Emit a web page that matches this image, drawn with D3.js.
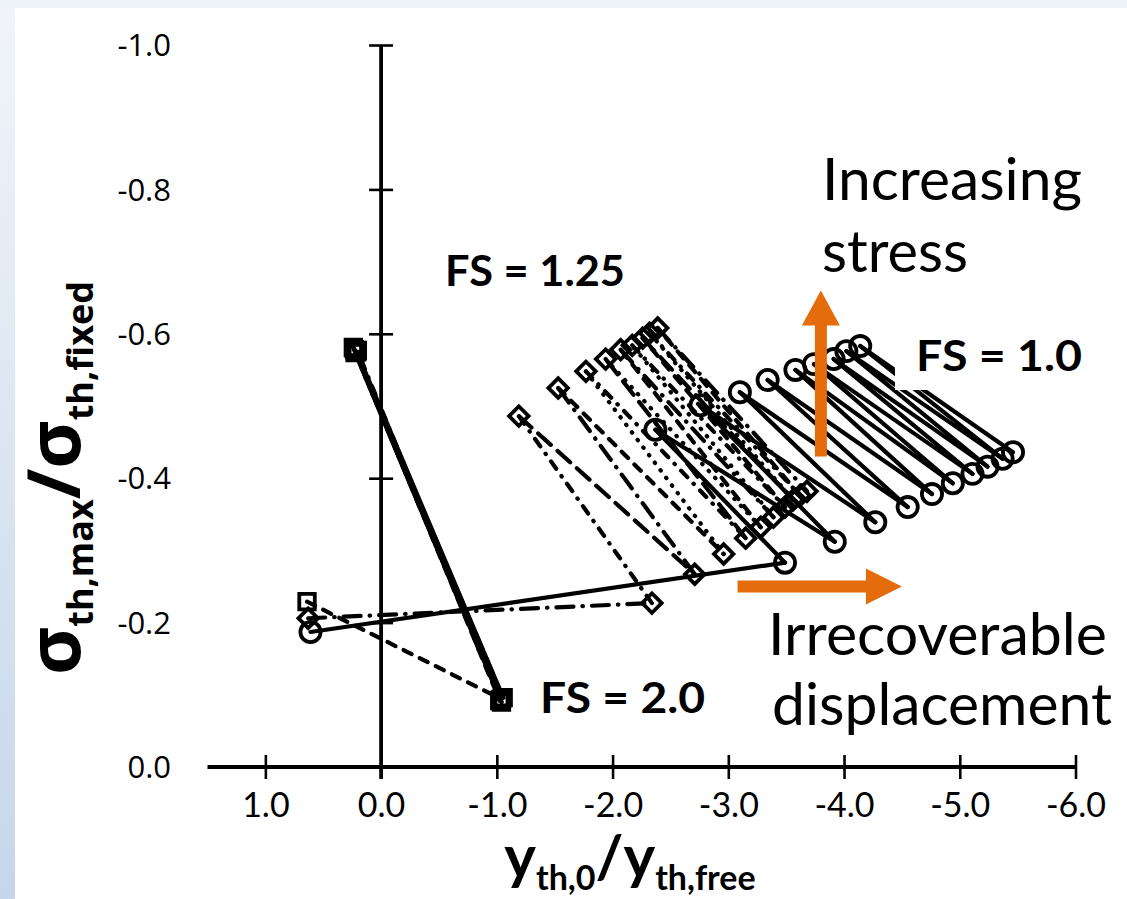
<!DOCTYPE html>
<html><head><meta charset="utf-8">
<script src="https://cdn.jsdelivr.net/npm/d3@7"></script>
<style>body{margin:0;background:#fff}svg{display:block}</style>
</head><body>
<svg id="chart" width="1127" height="899"></svg>
<script>
// ---------- data ----------
const xTicks = [1, 0, -1, -2, -3, -4, -5, -6];
const yTicks = [0, -0.2, -0.4, -0.6, -0.8, -1.0];

// FS = 1.0 (circles, solid) : loading history
const fs10X = [0.61, -3.49, -2.37, -3.92, -2.76, -4.27, -3.10, -4.55, -3.34, -4.76, -3.58, -4.94, -3.74, -5.11, -3.91, -5.24, -4.02, -5.37, -4.14, -5.46];
const fs10Y = [-0.187, -0.283, -0.467, -0.312, -0.501, -0.339, -0.519, -0.360, -0.536, -0.378, -0.550, -0.393, -0.558, -0.406, -0.565, -0.416, -0.576, -0.427, -0.583, -0.436];

// FS = 1.25 (diamonds, broken lines)
const fs125X = [0.63, -2.34, -1.19, -2.71, -1.53, -2.96, -1.77, -3.15, -1.94, -3.28, -2.07, -3.39, -2.17, -3.49, -2.26, -3.56, -2.32, -3.62, -2.39, -3.68];
const fs125Y = [-0.206, -0.227, -0.486, -0.267, -0.525, -0.295, -0.548, -0.317, -0.565, -0.332, -0.578, -0.346, -0.584, -0.360, -0.594, -0.370, -0.601, -0.376, -0.608, -0.382];
const fs125Dash = ["lgDashDot","dashDot","lgDash","lgDashDot","dash","roundDot","dashDot","lgDash","roundDot","dash","lgDashDot","roundDot","dashDot","dash","lgDash","roundDot","dashDot","dash","lgDashDot"];

// FS = 2.0 (squares)
const fs20X = [0.64, -1.04, 0.23, -1.025, 0.21, -1.055, 0.24, -1.04, 0.225, -1.03, 0.205];
const fs20Y = [-0.229, -0.094, -0.578, -0.092, -0.575, -0.096, -0.581, -0.090, -0.574, -0.093, -0.577];
const fs20Dash = ["dash","solid","dash","dashDot","solid","lgDash","solid","roundDot","solid","dashDot","solid"];

const dashMap = {solid:null, dash:"9,9", lgDash:"17,9", dashDot:"9,9,0.5,9", lgDashDot:"17,9,0.5,9", roundDot:"0.5,9"};

// ---------- layout ----------
const svg = d3.select("#chart");
const W = 1127, H = 899;
const fmt = d => d3.format(".1f")(d).replace("\u2212", "-");
const defs = svg.append("defs");
const g1 = defs.append("linearGradient").attr("id","bg").attr("x1",0).attr("y1",0).attr("x2",0).attr("y2",1);
g1.append("stop").attr("offset","0%").attr("stop-color","#f1f5fa");
g1.append("stop").attr("offset","100%").attr("stop-color","#c6d6ea");
svg.append("rect").attr("width",W).attr("height",H).attr("fill","url(#bg)");
svg.append("rect").attr("x",0).attr("y",0).attr("width",W).attr("height",9).attr("fill","#eef3f9");
svg.append("rect").attr("x",15).attr("y",8).attr("width",W-15).attr("height",H-8).attr("fill","#ffffff");

const x = d3.scaleLinear().domain([1.5, -6]).range([207.5, 1075.5]);
const y = d3.scaleLinear().domain([0, -1]).range([767, 45]);

const axisColor = "#000";
// x axis
svg.append("line").attr("x1",x(1.5)).attr("x2",x(-6)).attr("y1",y(0)).attr("y2",y(0))
  .attr("stroke",axisColor).attr("stroke-width",3.8);
const xa = svg.append("g").attr("transform",`translate(0,${y(0)-12})`)
  .call(d3.axisBottom(x).tickValues(xTicks).tickSize(24).tickPadding(14).tickFormat(fmt));
xa.select(".domain").remove();
xa.selectAll(".tick line").attr("stroke",axisColor).attr("stroke-width",2.6);
xa.selectAll(".tick text").attr("font-family","Lato, 'Open Sans', sans-serif").attr("font-size",34).attr("fill","#000");

// y axis
svg.append("line").attr("x1",x(0)).attr("x2",x(0)).attr("y1",y(-1)).attr("y2",y(0)+12)
  .attr("stroke",axisColor).attr("stroke-width",3.8);
const ya = svg.append("g").attr("transform",`translate(${x(0)+12},0)`)
  .call(d3.axisLeft(y).tickValues(yTicks).tickSize(24).tickFormat(""));
ya.select(".domain").remove();
ya.selectAll(".tick line").attr("stroke",axisColor).attr("stroke-width",2.6);
svg.append("g").selectAll("text").data(yTicks).join("text")
  .attr("x",171).attr("y",d=>y(d)).attr("dy","0.36em").attr("text-anchor","end")
  .attr("font-family","'Open Sans', sans-serif").attr("font-size",31).attr("fill","#000")
  .text(fmt);

// ---------- series ----------
function drawSeries(xs, ys, dashes, shape) {
  const pts = xs.map((v,i)=>[x(v), y(ys[i])]);
  const grp = svg.append("g");
  for (let i=0;i<pts.length-1;i++) {
    const st = dashes ? dashes[i] : "solid";
    grp.append("path").attr("d", d3.line()([pts[i], pts[i+1]]))
      .attr("fill","none").attr("stroke","#000").attr("stroke-width",4.2)
      .attr("stroke-linecap","round")
      .attr("stroke-dasharray", dashMap[st]);
  }
  const sym = d3.symbol().type(shape.type).size(shape.size);
  grp.selectAll("path.m").data(pts).join("path").attr("class","m")
    .attr("transform",d=>`translate(${d[0]},${d[1]})${shape.rot?" rotate(45)":""}`)
    .attr("d",sym).attr("fill","none").attr("stroke","#000").attr("stroke-width",3.8);
}
drawSeries(fs20X, fs20Y, fs20Dash, {type:d3.symbolSquare, size:240});
drawSeries(fs125X, fs125Y, fs125Dash, {type:d3.symbolSquare, size:190, rot:true});
drawSeries(fs10X, fs10Y, null, {type:d3.symbolCircle, size:320});

// ---------- annotations ----------
const orange = "#e46c0a";
// vertical arrow (increasing stress)
const vx = x(-3.8), vy0 = y(-0.43), vy1 = y(-0.66);
svg.append("path").attr("fill",orange)
  .attr("d",`M${vx-6},${vy0} L${vx-6},${vy1+35} L${vx-19},${vy1+35} L${vx},${vy1} L${vx+19},${vy1+35} L${vx+6},${vy1+35} L${vx+6},${vy0} Z`);
// horizontal arrow (irrecoverable displacement)
const hy = y(-0.25), hx0 = x(-3.08), hx1 = x(-4.5);
svg.append("path").attr("fill",orange)
  .attr("d",`M${hx0},${hy-6} L${hx1-36},${hy-6} L${hx1-36},${hy-18} L${hx1},${hy} L${hx1-36},${hy+18} L${hx1-36},${hy+6} L${hx0},${hy+6} Z`);

// white label box of FS = 1.0
svg.append("rect").attr("x",895).attr("y",322).attr("width",200).attr("height",68).attr("fill","#fff");

function label(t, x0, base, size, len, weight) {
  svg.append("text").attr("x",x0).attr("y",base).attr("font-family","Lato, 'Open Sans', sans-serif")
    .attr("font-size",size).attr("font-weight",weight||"normal").attr("fill","#000")
    .attr("textLength",len).attr("lengthAdjust","spacingAndGlyphs").text(t);
}
label("FS = 1.25", 445, 286, 42, 180, "bold");
label("FS = 1.0", 916, 371, 42, 166, "bold");
label("FS = 2.0", 540, 713, 42, 165, "bold");
label("Increasing", 822, 200, 58, 260);
label("stress", 822, 272, 58, 146);
label("Irrecoverable", 768, 655, 58, 339);
label("displacement", 772, 725, 58, 340);

// axis titles
const xt = svg.append("text").attr("x",630).attr("y",878).attr("text-anchor","middle")
  .attr("font-family","Lato, 'Open Sans', sans-serif").attr("font-weight","bold").attr("fill","#000");
xt.append("tspan").attr("font-size",60).text("y");
xt.append("tspan").attr("font-size",34).attr("dy",12).text("th,0");
xt.append("tspan").attr("font-size",60).attr("dy",-12).text("/y");
xt.append("tspan").attr("font-size",34).attr("dy",12).text("th,free");

const yt = svg.append("text").attr("transform","translate(80,478) rotate(-90)").attr("text-anchor","middle")
  .attr("font-family","'Open Sans', Lato, sans-serif").attr("font-weight","bold").attr("fill","#000");
yt.append("tspan").attr("font-size",74).text("σ");
yt.append("tspan").attr("font-size",36).attr("dy",13).text("th,max");
yt.append("tspan").attr("font-size",74).attr("dy",-13).text("/σ");
yt.append("tspan").attr("font-size",36).attr("dy",13).text("th,fixed");
</script>
</body></html>
